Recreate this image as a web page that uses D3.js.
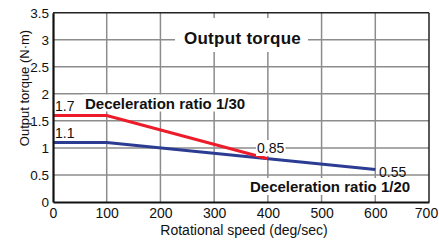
<!DOCTYPE html>
<html><head><meta charset="utf-8">
<script src="https://cdn.jsdelivr.net/npm/d3@7"></script>
<style>
html,body{margin:0;padding:0;background:#fff;}
svg{display:block;font-family:"Liberation Sans",Arial,Helvetica,sans-serif;}
</style></head>
<body><svg id="c" width="439" height="240"></svg>
<script>
// data
const xTicks = [0,100,200,300,400,500,600,700];
const yTicks = [0,0.5,1,1.5,2,2.5,3,3.5];
const yTickLabels = ["0","0.5","1","1.5","2","2.5","3","3.5"];
const speed30 = [0,100,400];
const torque30 = [1.6,1.6,0.8];
const speed20 = [0,100,600];
const torque20 = [1.1,1.1,0.6];
const seriesNames = ["Deceleration ratio 1/30","Deceleration ratio 1/20"];
const title = "Output torque";
const xTitle = "Rotational speed (deg/sec)";
const yTitle = "Output torque (N·m)";

const svg = d3.select("#c");
const x = d3.scaleLinear().domain([0,700]).range([53,429]);
const y = d3.scaleLinear().domain([0,3.5]).range([202,12.7]);

// gridlines
const grid = svg.append("g").attr("stroke","#8c8c8c").attr("stroke-width",1.5);
grid.selectAll(".vg").data(xTicks.filter(d=>d>0&&d<700)).enter().append("line")
  .attr("x1",d=>x(d)).attr("x2",d=>x(d)).attr("y1",y(0)).attr("y2",y(3.5));
grid.selectAll(".hg").data(yTicks.filter(d=>d>0&&d<3.5)).enter().append("line")
  .attr("y1",d=>y(d)).attr("y2",d=>y(d)).attr("x1",x(0)).attr("x2",x(700));

// label with white background
function bgText(txt, tx, ty, opts){
  const g = svg.append("g");
  const t = g.append("text").attr("x",tx).attr("y",ty).text(txt)
    .attr("font-size",opts.size).attr("font-weight",opts.weight||"normal")
    .attr("fill","#111").attr("text-anchor",opts.anchor||"start");
  if(opts.ls) t.attr("letter-spacing",opts.ls);
  if(opts.bg){
    const b = t.node().getBBox();
    const p = opts.pad||[2,1];
    g.insert("rect","text").attr("x",b.x-p[0]).attr("y",b.y-p[1])
      .attr("width",b.width+2*p[0]).attr("height",b.height+2*p[1]).attr("fill","#fff");
  }
  return t;
}

// border (top/right)
svg.append("line").attr("x1",x(0)).attr("x2",x(700)).attr("y1",y(3.5)).attr("y2",y(3.5)).attr("stroke","#222").attr("stroke-width",1.5);
svg.append("line").attr("x1",x(700)).attr("x2",x(700)).attr("y1",y(3.5)).attr("y2",y(0)).attr("stroke","#222").attr("stroke-width",1.5);

// title box
svg.append("rect").attr("x",175).attr("y",18).attr("width",133).attr("height",34).attr("fill","#fff");
bgText(title, 242.5, 44, {size:17, weight:"bold", anchor:"middle", ls:0.3});

// series lines
const line = d3.line().x(d=>x(d[0])).y(d=>y(d[1]));
svg.append("path").datum(speed20.map((s,i)=>[s,torque20[i]])).attr("d",line)
  .attr("fill","none").attr("stroke","#2b3c92").attr("stroke-width",3);
svg.append("path").datum(speed30.map((s,i)=>[s,torque30[i]])).attr("d",line)
  .attr("fill","none").attr("stroke","#ec1c2a").attr("stroke-width",3);

// annotations
bgText(seriesNames[0], 85, 108.5, {size:15, weight:"bold", bg:true, pad:[2,0]});
bgText(seriesNames[1], 250, 192, {size:15, weight:"bold", bg:true, pad:[2,0]});
bgText("1.7", 55, 111, {size:14});
bgText("1.1", 55, 138, {size:14});
bgText("0.85", 257, 153, {size:14, bg:true, pad:[1,0]});
bgText("0.55", 379, 176.5, {size:14});

// axes
const xAxis = d3.axisBottom(x).tickValues(xTicks).tickSize(0).tickPadding(6).tickFormat(d3.format("d"));
const gx = svg.append("g").attr("transform",`translate(0,${y(0)})`).call(xAxis);
gx.select(".domain").attr("stroke","#111").attr("stroke-width",2.2);
gx.selectAll("text").attr("font-size",14).attr("fill","#111").attr("font-family","Liberation Sans, Arial, sans-serif")
  .attr("dx",d=>d===700?-3:0);

const yAxis = d3.axisLeft(y).tickValues(yTicks).tickSize(0).tickPadding(4).tickFormat((d,i)=>yTickLabels[i]);
const gy = svg.append("g").attr("transform",`translate(${x(0)},0)`).call(yAxis);
gy.select(".domain").attr("stroke","#111").attr("stroke-width",2.2);
gy.selectAll("text").attr("font-size",13.5).attr("fill","#111").attr("font-family","Liberation Sans, Arial, sans-serif");

// axis titles
svg.append("text").attr("x",244).attr("y",235).attr("text-anchor","middle")
  .attr("font-size",14).attr("fill","#111").text(xTitle);
svg.append("text").attr("transform","translate(29,88) rotate(-90)").attr("text-anchor","middle")
  .attr("font-size",13).attr("fill","#111").text(yTitle);
</script></body></html>
